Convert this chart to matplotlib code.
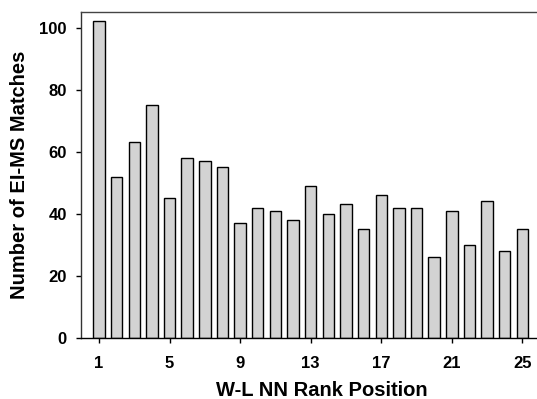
import numpy as np
import matplotlib.pyplot as plt

plt.rcParams['font.family'] = ['Liberation Sans', 'DejaVu Sans']
plt.rcParams['font.weight'] = 'bold'

# rank positions and number of matches
ranks = np.arange(1, 26)
matches = [102, 52, 63, 75, 45, 58, 57, 55, 37, 42, 41, 38, 49,
           40, 43, 35, 46, 42, 42, 26, 41, 30, 44, 28, 35]
xticks = [1, 5, 9, 13, 17, 21, 25]
yticks = [0, 20, 40, 60, 80, 100]

fig = plt.figure(figsize=(5.37, 3.99), dpi=100)
ax = fig.add_axes([81/537, 1-338/399, 1-81/537, (338-12)/399])

ax.bar(ranks, matches, width=0.65, color='#d3d3d3', edgecolor='black', linewidth=1)

ax.set_xlim(-0.02, 25.83)
ax.set_ylim(0, 105)
ax.set_xticks(xticks)
ax.set_yticks(yticks)
ax.tick_params(direction='out', length=3.6, width=1, labelsize=12)
ax.tick_params(axis='x', pad=9)
ax.tick_params(axis='y', pad=6.5)
for lab in ax.get_xticklabels() + ax.get_yticklabels():
	lab.set_fontweight('bold')
ax.spines['right'].set_visible(False)
for s in ['left', 'bottom', 'top']:
	ax.spines[s].set_linewidth(1)
ax.spines['top'].set_color('#444444')
ax.spines['left'].set_color('#333333')

ax.set_xlabel('W-L NN Rank Position', fontsize=14.5, fontweight='bold', va='center')
ax.set_ylabel('Number of EI-MS Matches', fontsize=14.5, fontweight='bold', va='center')
ax.xaxis.set_label_coords((321.5-81)/456, (338-391)/326)
ax.yaxis.set_label_coords((20-81)/456, 0.5)

fig.savefig('out.png', dpi=100)
